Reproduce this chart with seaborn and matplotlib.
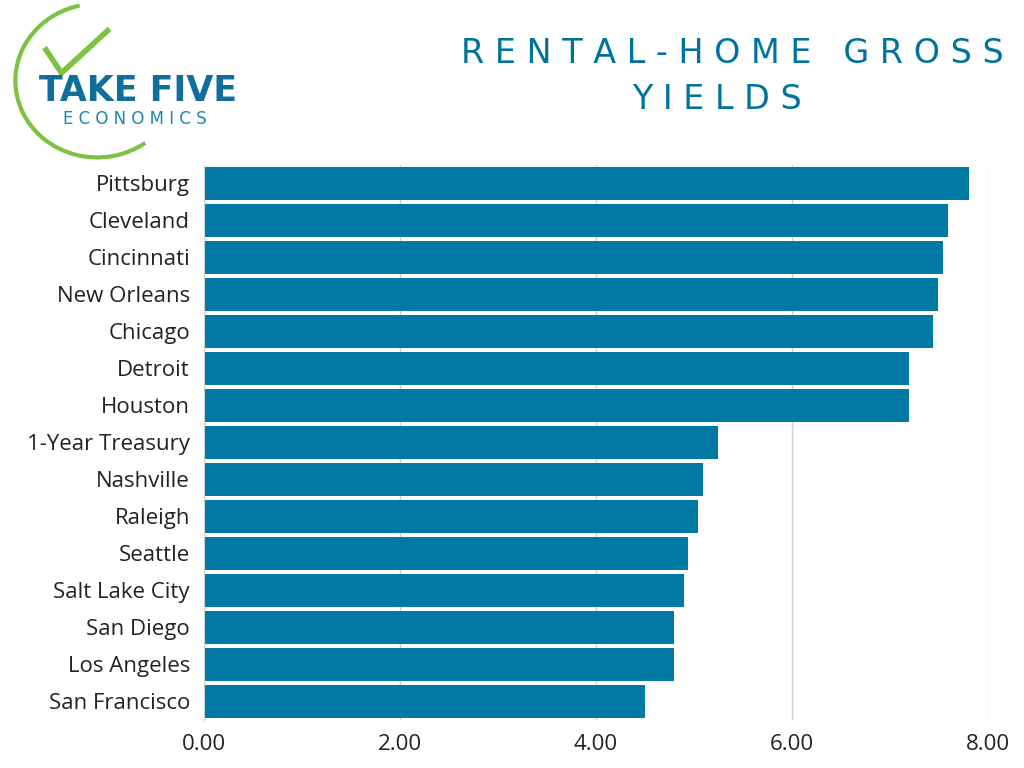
import matplotlib
matplotlib.use("Agg")
import matplotlib.pyplot as plt
import seaborn as sns
import pandas as pd
from matplotlib.patches import Arc

cities = ["Pittsburg","Cleveland","Cincinnati","New Orleans","Chicago","Detroit","Houston",
          "1-Year Treasury","Nashville","Raleigh","Seattle","Salt Lake City","San Diego",
          "Los Angeles","San Francisco"]
yields = [7.80,7.59,7.54,7.49,7.44,7.19,7.19,5.24,5.09,5.04,4.94,4.90,4.80,4.80,4.50]
ticks = [0,2,4,6,8]
tick_labels = ["0.00","2.00","4.00","6.00","8.00"]

df = pd.DataFrame({"city": cities, "yield": yields})
fig = plt.figure(figsize=(10.24,7.68), dpi=100)
ax = fig.add_axes([0.199,0.0625,0.766,0.723])
sns.barplot(data=df, x="yield", y="city", color="#0079A3", width=0.9, ax=ax, saturation=1)
ax.set_xlim(0,8.0)
ax.set_xticks(ticks)
ax.set_xticklabels(tick_labels)
ax.set_xlabel(""); ax.set_ylabel("")
ax.grid(axis="x", color="#d0d0d0", lw=1)
ax.set_axisbelow(True)
for s in ["top","right","bottom"]:
    ax.spines[s].set_visible(False)
ax.spines["left"].set_color("#d0d0d0")
ax.tick_params(length=0, labelsize=16, colors="#222222", pad=10)
for lab in ax.get_yticklabels()+ax.get_xticklabels():
    lab.set_fontfamily("Open Sans")
ax.set_clip_on(False)

fig.text(0.715,0.93,"R E N T A L - H O M E   G R O S S", ha="center", va="center",
         fontsize=24, color="#00739C", fontfamily="DejaVu Sans")
fig.text(0.70,0.87,"Y I E L D S", ha="center", va="center",
         fontsize=24, color="#00739C", fontfamily="DejaVu Sans")

# logo
fig.text(0.135,0.882,"TAKE FIVE", ha="center", va="center", fontsize=25, fontweight="bold",
         color="#0F6E9A", fontfamily="DejaVu Sans")
fig.text(0.132,0.845,"E C O N O M I C S", ha="center", va="center", fontsize=12,
         color="#1C86B0", fontfamily="DejaVu Sans")
fig.patches.append(Arc((0.095,0.895),0.16,0.2,theta1=100,theta2=300,
                       transform=fig.transFigure, color="#7DC242", lw=3))
fig.lines.append(plt.Line2D([0.045,0.06,0.105],[0.935,0.905,0.96],
                            transform=fig.transFigure, color="#7DC242", lw=4))
fig.savefig("out.png", dpi=100)
